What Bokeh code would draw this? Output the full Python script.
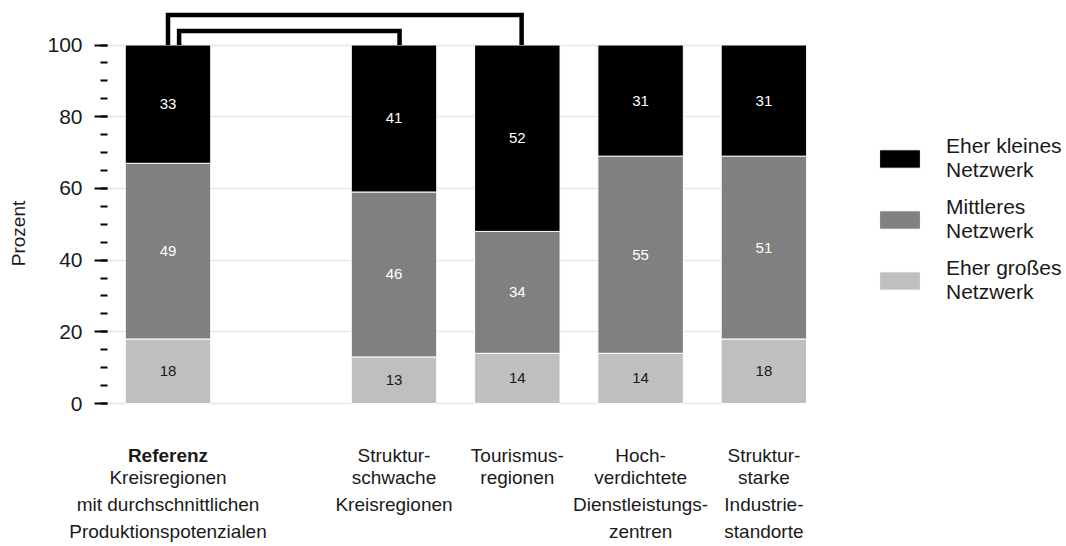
from bokeh.plotting import figure
from bokeh.models import ColumnDataSource, Range1d, FixedTicker, Legend, LegendItem, Grid
from bokeh.core.properties import value
from bokeh.embed import file_html
from bokeh.resources import INLINE
import numpy as np

# ---------------- data ----------------
categories = [
    "Referenz\nKreisregionen\nmit durchschnittlichen\nProduktionspotenzialen",
    "Struktur-\nschwache\nKreisregionen",
    "Tourismus-\nregionen",
    "Hoch-\nverdichtete\nDienstleistungs-\nzentren",
    "Struktur-\nstarke\nIndustrie-\nstandorte",
]
eher_grosses = [18, 13, 14, 14, 18]
mittleres = [49, 46, 34, 55, 51]
eher_kleines = [33, 41, 52, 31, 31]
series_names = ["Eher großes\nNetzwerk", "Mittleres\nNetzwerk", "Eher kleines\nNetzwerk"]
y_ticks = [0, 20, 40, 60, 80, 100]
minor_y_ticks = list(range(0, 101, 5))
comparisons = [(0, 2), (0, 1)]  # bracket pairs (outer, inner)
y_label = "Prozent"

# ---------------- layout / style ----------------
FONT = "Liberation Sans"
TXT = "#1a1a1a"
colors = ["#bfbfbf", "#808080", "#000000"]
label_colors = [TXT, "white", "white"]
W, H = 1066, 546
FRAME_LEFT = 107
FRAME_BOTTOM = 466
ZERO_PX = 403       # screen row of y = 0
TOP100_PX = 44.5    # screen row of y = 100
PX = (ZERO_PX - TOP100_PX) / 100.0   # pixels per percent
PXU = 123.3         # pixels per category slot
GAP = 0.833
BAR_W = 0.693
FS = 19
LH = 1.3
n = len(categories)
xs = [0.0] + [round(i + GAP, 3) for i in range(1, n)]
x_start = -60.5 / PXU
x_end = x_start + (W - FRAME_LEFT) / PXU
plot_end = xs[-1] + 0.345

src = ColumnDataSource(dict(x=xs, g=eher_grosses, m=mittleres, k=eher_kleines))

p = figure(width=W, height=H, output_backend="svg", toolbar_location=None,
           x_range=Range1d(x_start, x_end),
           y_range=Range1d(-(FRAME_BOTTOM - ZERO_PX) / PX, 100 + TOP100_PX / PX),
           min_border_left=FRAME_LEFT, min_border_right=0,
           min_border_top=0, min_border_bottom=H - FRAME_BOTTOM)
p.outline_line_color = None
p.background_fill_color = "white"
p.xgrid.grid_line_color = None

# y axis
ax = p.yaxis[0]
ax.ticker = FixedTicker(ticks=y_ticks, minor_ticks=minor_y_ticks)
ax.axis_line_color = None
ax.major_tick_line_color = "black"
ax.minor_tick_line_color = "black"
ax.major_tick_line_width = 2
ax.minor_tick_line_width = 2
ax.major_tick_out = 13
ax.major_tick_in = 0
ax.minor_tick_out = 7
ax.minor_tick_in = 0
ax.major_label_standoff = 12
ax.major_label_text_font = FONT
ax.major_label_text_font_size = "21px"
ax.major_label_text_color = TXT
ax.axis_label = y_label
ax.axis_label_text_font = FONT
ax.axis_label_text_font_style = "normal"
ax.axis_label_text_font_size = "19px"
ax.axis_label_text_color = TXT
ax.axis_label_standoff = 15

# horizontal grid lines only across the bar area
if "cross_bounds" in Grid.properties():
    p.ygrid.grid_line_color = "#e6e6e6"
    p.ygrid.grid_line_width = 1.5
    p.ygrid.cross_bounds = (x_start, plot_end)
else:
    p.ygrid.grid_line_color = None
    p.segment(x0=[x_start] * len(y_ticks), x1=[plot_end] * len(y_ticks),
              y0=y_ticks, y1=y_ticks, line_color="#e6e6e6", line_width=1.5)

# x axis: carries the category label lines after the first
first_lines = [c.split("\n")[0] for c in categories]
rest_lines = ["\n".join(c.split("\n")[1:]) for c in categories]
xa = p.xaxis[0]
xa.ticker = FixedTicker(ticks=xs, minor_ticks=[])
xa.major_label_overrides = {x: t for x, t in zip(xs, rest_lines)}
xa.axis_line_color = None
xa.major_tick_line_color = None
xa.minor_tick_line_color = None
xa.major_tick_out = 0
xa.major_tick_in = 0
xa.major_label_standoff = 0
xa.major_label_text_font = FONT
xa.major_label_text_font_size = f"{FS}px"
xa.major_label_text_color = TXT
xa.major_label_text_line_height = LH

rs = p.vbar_stack(["g", "m", "k"], x="x", width=BAR_W, color=colors, source=src,
                  line_color="white", line_width=1)

# value labels
stack = np.array([eher_grosses, mittleres, eher_kleines], dtype=float)
bottoms = np.vstack([np.zeros(n), np.cumsum(stack, axis=0)[:-1]])
centers = bottoms + stack / 2
for s in range(3):
    p.text(x=xs, y=list(centers[s]), text=[str(int(v)) for v in stack[s]],
           text_align="center", text_baseline="middle", text_color=label_colors[s],
           text_font=value(FONT), text_font_size="15px")

# comparison brackets
totals = stack.sum(axis=0)
levels = [108.4, 103.9]
offs = [(0.0, 0.035), (0.09, 0.045)]
bx, by = [], []
for (a, b), h, (da, db) in zip(comparisons, levels, offs):
    bx.append([xs[a] + da, xs[a] + da, xs[b] + db, xs[b] + db])
    by.append([totals[a], h, h, totals[b]])
p.multi_line(xs=bx, ys=by, line_color="black", line_width=4.5, line_join="miter")

# first line of each category label (bold for the reference group)
line1_off = 455 - ZERO_PX
p.text(x=xs[:1], y=[0], text=first_lines[:1], text_align="center", text_baseline="middle",
       text_color=TXT, text_font=value(FONT), text_font_size=f"{FS}px",
       text_font_style="bold", y_offset=line1_off)
p.text(x=xs[1:], y=[0] * (n - 1), text=first_lines[1:], text_align="center",
       text_baseline="middle", text_color=TXT, text_font=value(FONT),
       text_font_size=f"{FS}px", y_offset=line1_off)

# legend (inside the widened frame, right of the bars)
legend = Legend(items=[LegendItem(label=series_names[2], renderers=[rs[2]]),
                       LegendItem(label=series_names[1], renderers=[rs[1]]),
                       LegendItem(label=series_names[0], renderers=[rs[0]])],
                location=(874 - FRAME_LEFT, FRAME_BOTTOM - 304))
legend.glyph_width = 51
legend.glyph_height = 23
legend.label_standoff = 21
legend.spacing = 13
legend.padding = 0
legend.margin = 0
legend.border_line_color = None
legend.background_fill_alpha = 0
legend.label_text_font = FONT
legend.label_text_font_size = "21px"
legend.label_text_color = TXT
p.add_layout(legend)

open("out.html", "w").write(file_html(p, INLINE))
